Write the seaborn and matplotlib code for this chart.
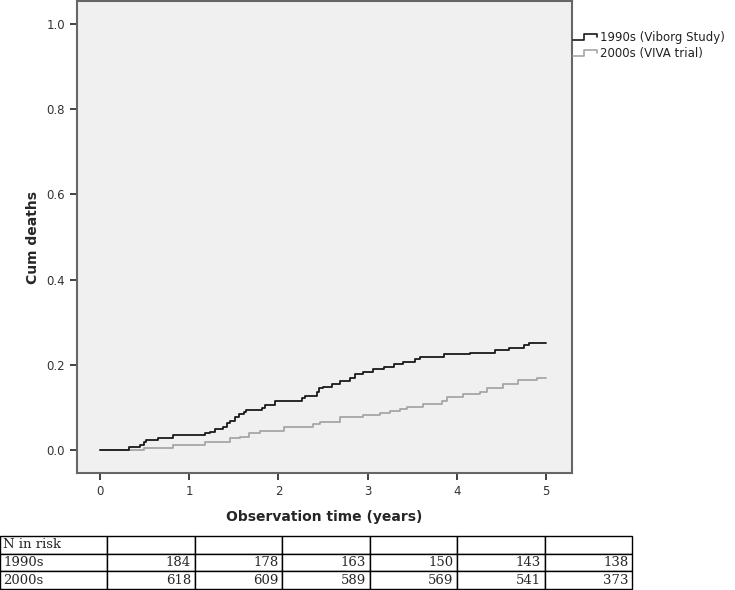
import numpy as np
import pandas as pd
import matplotlib
matplotlib.use("Agg")
import matplotlib.pyplot as plt
from matplotlib.legend_handler import HandlerBase
from matplotlib.lines import Line2D
import seaborn as sns

# cumulative deaths (step points)
t_1990 = [0, 0.33, 0.45, 0.49, 0.52, 0.65, 0.82, 1.18, 1.23, 1.29, 1.38, 1.42, 1.46, 1.51,
          1.56, 1.61, 1.64, 1.81, 1.85, 1.96, 2.26, 2.30, 2.43, 2.45, 2.50, 2.60, 2.69, 2.80,
          2.86, 2.95, 3.06, 3.18, 3.29, 3.40, 3.53, 3.59, 3.85, 4.15, 4.43, 4.58, 4.75, 4.81, 5.0]
cum_1990 = [0, 0.006, 0.012, 0.019, 0.023, 0.029, 0.035, 0.039, 0.043, 0.049, 0.055, 0.063,
            0.069, 0.077, 0.085, 0.090, 0.094, 0.099, 0.106, 0.115, 0.121, 0.127, 0.137, 0.145,
            0.149, 0.156, 0.163, 0.170, 0.178, 0.184, 0.189, 0.196, 0.201, 0.207, 0.213, 0.219,
            0.225, 0.228, 0.235, 0.240, 0.246, 0.250, 0.250]
t_2000 = [0, 0.33, 0.49, 0.82, 1.18, 1.46, 1.57, 1.67, 1.79, 2.06, 2.39, 2.47, 2.69, 2.95,
          3.14, 3.25, 3.36, 3.44, 3.62, 3.83, 3.89, 4.07, 4.26, 4.34, 4.52, 4.69, 4.90, 5.0]
cum_2000 = [0, 0.0, 0.004, 0.012, 0.019, 0.029, 0.031, 0.039, 0.045, 0.055, 0.060, 0.066,
            0.077, 0.082, 0.088, 0.092, 0.096, 0.100, 0.108, 0.116, 0.125, 0.131, 0.137, 0.146,
            0.154, 0.164, 0.168, 0.168]

labels = ["1990s (Viborg Study)", "2000s (VIVA trial)"]
colors = ["#1a1a1a", "#a6a6a6"]

risk_rows = ["1990s", "2000s"]
risk_1990 = [184, 178, 163, 150, 143, 138]
risk_2000 = [618, 609, 589, 569, 541, 373]

df = pd.concat([
    pd.DataFrame({"time": t_1990, "cum": cum_1990, "group": labels[0]}),
    pd.DataFrame({"time": t_2000, "cum": cum_2000, "group": labels[1]}),
])

sns.set_style("ticks")
plt.rcParams["font.family"] = ["DejaVu Sans"]

fig = plt.figure(figsize=(7.35, 5.9), dpi=100)
ax = fig.add_axes([77 / 735, 117 / 590, 495 / 735, 472 / 590])
ax.set_facecolor("#f0f0f0")

# draw gray first so black sits on top
sns.lineplot(data=df, x="time", y="cum", hue="group", hue_order=labels[::-1],
             palette=colors[::-1], drawstyle="steps-post", linewidth=1.3,
             estimator=None, legend=False, ax=ax)

ax.set_xlim(-0.258, 5.29)
ax.set_ylim(-0.054, 1.054)
ax.set_xticks(range(6))
ax.set_yticks([0, 0.2, 0.4, 0.6, 0.8, 1.0])
ax.set_yticklabels(["0.0", "0.2", "0.4", "0.6", "0.8", "1.0"])
ax.tick_params(labelsize=8.5, length=5, width=1.3, color="#333333", labelcolor="#333333")
for s in ax.spines.values():
    s.set_visible(True)
    s.set_color("#666666")
    s.set_linewidth(1.5)
ax.set_xlabel("Observation time (years)", fontsize=10, fontweight="bold", labelpad=9)
ax.set_ylabel("Cum deaths", fontsize=10, fontweight="bold", labelpad=5)


class StepHandler(HandlerBase):
    def create_artists(self, legend, orig, xd, yd, w, h, fontsize, trans):
        xs = np.array([0, 0.45, 0.45, 1.0, 1.0]) * w - xd
        ys = np.array([0.15, 0.15, 0.85, 0.85, 0.45]) * h - yd
        ln = Line2D(xs, ys, color=orig.get_color(), linewidth=1.2, transform=trans)
        return [ln]


handles = [Line2D([], [], color=c) for c in colors]
fig.legend(handles, labels, handler_map={Line2D: StepHandler()}, loc="upper left",
           bbox_to_anchor=(573 / 735, 1 - 31 / 590), frameon=False, fontsize=8.5,
           handlelength=2.0, handletextpad=0.3, borderaxespad=0, borderpad=0,
           labelspacing=0.25, labelcolor="#222222")

# N in risk table
tab_ax = fig.add_axes([0, 1 / 590, 632 / 735, 53 / 590])
tab_ax.axis("off")
cells = [["N in risk"] + [""] * 6,
         [risk_rows[0]] + [str(v) for v in risk_1990],
         [risk_rows[1]] + [str(v) for v in risk_2000]]
col_w = [107 / 632] + [87.5 / 632] * 6
tbl = tab_ax.table(cellText=cells, colWidths=col_w, bbox=[0, 0, 1, 1], cellLoc="right")
tbl.auto_set_font_size(False)
for (r, c), cell in tbl.get_celld().items():
    cell.set_edgecolor("black")
    cell.set_linewidth(1.0)
    cell.get_text().set_fontfamily("DejaVu Serif")
    cell.get_text().set_fontsize(9.5)
    cell.PAD = 0.04
    if c == 0:
        cell.get_text().set_horizontalalignment("left")
        cell.PAD = 0.03

fig.savefig("out.png", dpi=100)
